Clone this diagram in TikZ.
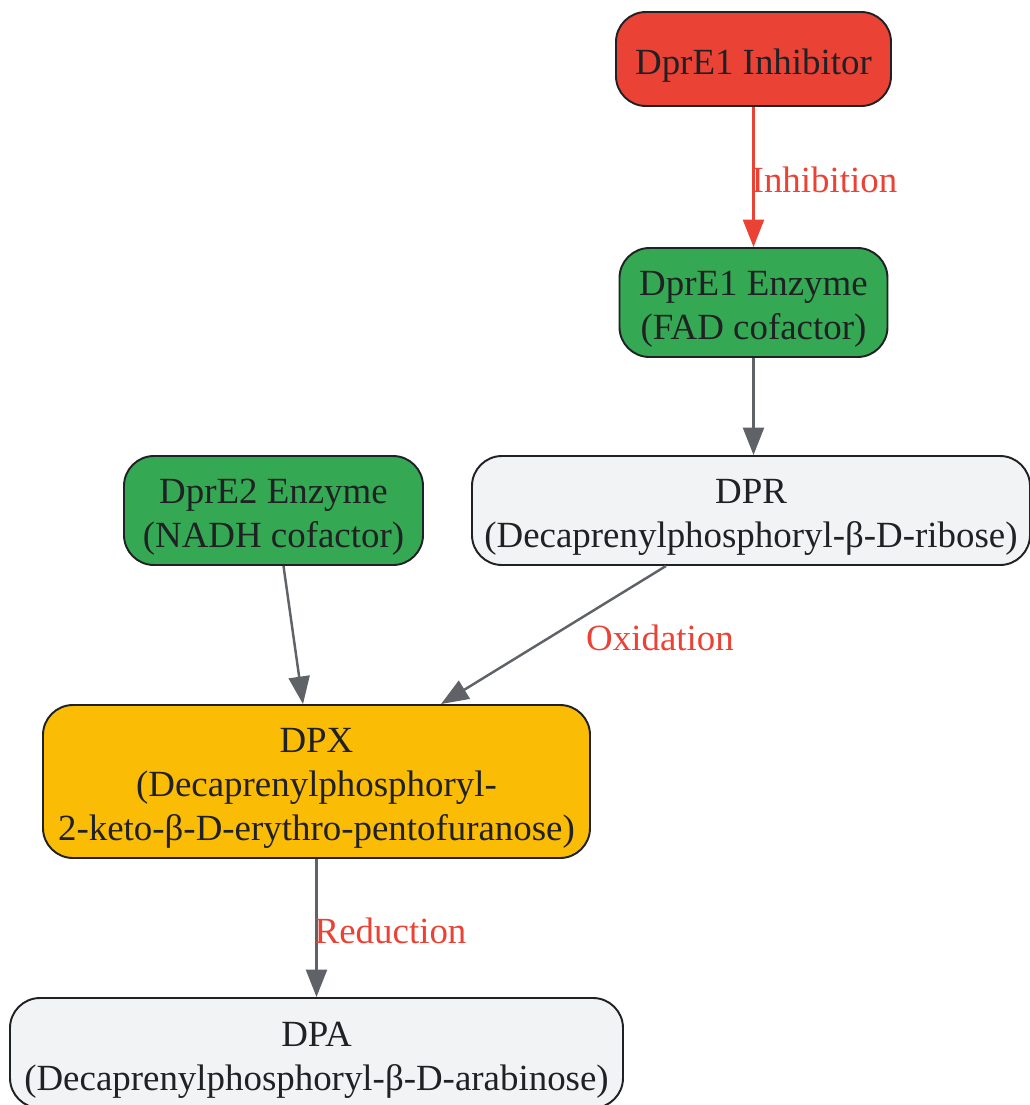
\documentclass[tikz,border=0pt]{standalone}
\usepackage{fontspec}
\setmainfont{Liberation Serif}
\usepackage{tikz}
\usetikzlibrary{arrows.meta}

\definecolor{inhred}{HTML}{EA4335}
\definecolor{enzgreen}{HTML}{34A853}
\definecolor{dpxyellow}{HTML}{FBBC05}
\definecolor{substgray}{HTML}{F1F3F4}
\definecolor{edgegray}{HTML}{5F6368}
\definecolor{txtdark}{HTML}{202124}

\newcommand{\topstrut}{\rule{0pt}{22pt}}

\begin{document}
\begin{tikzpicture}
				\useasboundingbox (0,0) rectangle (20.6,-22.1);
				\begin{scope}[every node/.style = {rectangle, rounded corners=0.6cm, draw=txtdark,
						line width=1.1pt, align=center, text=txtdark, inner sep=0pt,
						font=\fontsize{21}{25}\selectfont}]
					\node[fill=inhred, minimum width=5.5cm, minimum height=1.88cm] (I) at (15.07,-1.18) {\topstrut DprE1 Inhibitor};
					\node[fill=enzgreen, minimum width=5.36cm, minimum height=2.18cm] (E1) at (15.07,-6.05) {\topstrut DprE1 Enzyme\\(FAD cofactor)};
					\node[fill=substgray, minimum width=11.16cm, minimum height=2.18cm] (DPR) at (15.02,-10.21) {\topstrut DPR\\(Decaprenylphosphoryl-β-D-ribose)};
					\node[fill=enzgreen, minimum width=5.98cm, minimum height=2.18cm] (E2) at (5.47,-10.21) {\topstrut DprE2 Enzyme\\(NADH cofactor)};
					\node[fill=dpxyellow, minimum width=10.94cm, minimum height=3.06cm] (DPX) at (6.33,-15.63) {\topstrut DPX\\(Decaprenylphosphoryl-\\2-keto-β-D-erythro-pentofuranose)};
					\node[fill=substgray, minimum width=12.26cm, minimum height=2.2cm] (DPA) at (6.33,-21.06) {\topstrut DPA\\(Decaprenylphosphoryl-β-D-arabinose)};
				\end{scope}
				\begin{scope}[>={Triangle[length=0.55cm, width=0.42cm]},
						every edge/.style={draw=edgegray, line width=1.4pt},
						every node/.style={text=inhred, inner sep=0pt, yshift=-0.05cm,
						font=\fontsize{21}{25}\selectfont}]
					\path [->] (I) edge[draw=inhred, color=inhred] node[midway, anchor=west, xshift=-0.06cm] {Inhibition} (E1);
					\path [->] (E1) edge (E1 |- DPR.north);
					\path [->] ([xshift=0.2cm]E2.south) edge ([xshift=-0.27cm]DPX.north);
					\path [->] ([xshift=-1.7cm]DPR.south) edge node[midway, right=0.63cm] {Oxidation} ([xshift=2.49cm]DPX.north);
					\path [->] (DPX) edge node[midway, anchor=west, xshift=-0.06cm] {Reduction} (DPA);
				\end{scope}
			\end{tikzpicture}
\end{document}
